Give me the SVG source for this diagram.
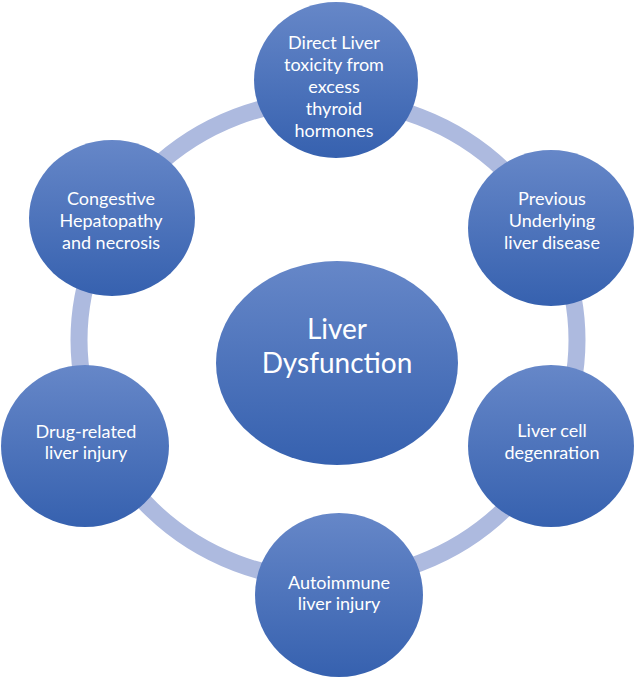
<svg xmlns="http://www.w3.org/2000/svg" width="640" height="681" viewBox="0 0 640 681">
  <defs>
    <linearGradient id="g" x1="0" y1="0" x2="0" y2="1">
      <stop offset="0" stop-color="#6687c8"/>
      <stop offset="1" stop-color="#3661af"/>
    </linearGradient>
    <style>
      .node { fill: url(#g); }
      .t { font-family: Lato, "Liberation Sans", sans-serif; font-size: 18px; fill: #ffffff; text-anchor: middle; }
      .tc { font-family: Lato, "Liberation Sans", sans-serif; font-size: 28px; fill: #ffffff; text-anchor: middle; }
      .ring { fill: none; stroke: #adbadf; stroke-width: 17; }
    </style>
  </defs>
  <rect width="640" height="681" fill="#ffffff"/>
  <g id="connectors">
    <ellipse class="ring" cx="328" cy="340" rx="249" ry="240"/>
  </g>
  <g id="center">
    <ellipse class="node" cx="337" cy="363" rx="121" ry="102"/>
    <text class="tc" x="337" y="339">Liver</text>
    <text class="tc" x="337" y="373">Dysfunction</text>
  </g>
  <g id="n-direct">
    <ellipse class="node" cx="336" cy="80" rx="82" ry="78"/>
    <text class="t" x="334" y="49">Direct Liver</text>
    <text class="t" x="334" y="71">toxicity from</text>
    <text class="t" x="334" y="93">excess</text>
    <text class="t" x="334" y="115">thyroid</text>
    <text class="t" x="334" y="137">hormones</text>
  </g>
  <g id="n-previous">
    <ellipse class="node" cx="551" cy="228" rx="83" ry="78"/>
    <text class="t" x="552" y="205">Previous</text>
    <text class="t" x="552" y="227">Underlying</text>
    <text class="t" x="552" y="249">liver disease</text>
  </g>
  <g id="n-livercell">
    <ellipse class="node" cx="551" cy="446" rx="83" ry="81"/>
    <text class="t" x="552" y="437">Liver cell</text>
    <text class="t" x="552" y="459">degenration</text>
  </g>
  <g id="n-autoimmune">
    <ellipse class="node" cx="339" cy="595" rx="84" ry="82"/>
    <text class="t" x="339" y="589">Autoimmune</text>
    <text class="t" x="339" y="610">liver injury</text>
  </g>
  <g id="n-drug">
    <ellipse class="node" cx="85" cy="446" rx="84" ry="81"/>
    <text class="t" x="86" y="438">Drug-related</text>
    <text class="t" x="86" y="459">liver injury</text>
  </g>
  <g id="n-congestive">
    <ellipse class="node" cx="112" cy="218" rx="83" ry="78"/>
    <text class="t" x="111" y="205">Congestive</text>
    <text class="t" x="111" y="227">Hepatopathy</text>
    <text class="t" x="111" y="249">and necrosis</text>
  </g>
</svg>
